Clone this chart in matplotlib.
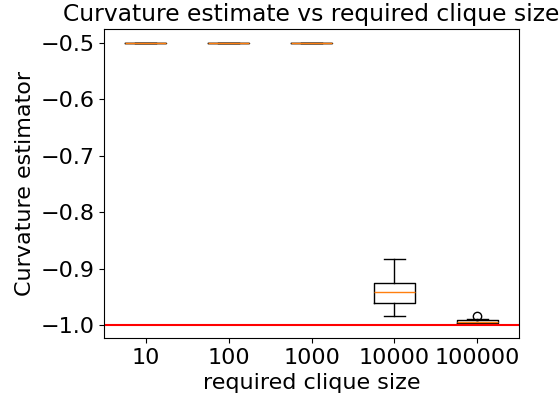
import matplotlib
matplotlib.use("Agg")
import matplotlib.pyplot as plt

# Valores (estadisticas de cada caja)
etiquetas = ["10", "100", "1000", "10000", "100000"]
medianas = [-0.5, -0.5, -0.5, -0.9405, -0.994]
q1 = [-0.5, -0.5, -0.5, -0.9607, -0.997]
q3 = [-0.5, -0.5, -0.5, -0.9256, -0.9916]
bigote_inf = [-0.5, -0.5, -0.5, -0.984, -0.998]
bigote_sup = [-0.5, -0.5, -0.5, -0.8834, -0.989]
atipicos = [[], [], [], [], [-0.984]]
valor_real = -1.0

stats = []
for i in range(len(etiquetas)):
    stats.append({
        "label": etiquetas[i],
        "med": medianas[i],
        "q1": q1[i],
        "q3": q3[i],
        "whislo": bigote_inf[i],
        "whishi": bigote_sup[i],
        "fliers": atipicos[i],
    })

plt.rcParams["font.size"] = 16

fig, ax = plt.subplots(figsize=(5.59, 4), dpi=100)
fig.subplots_adjust(left=0.1866, right=0.928, top=0.9275, bottom=0.155)

ax.bxp(stats)
ax.axhline(valor_real, color="red")

ax.set_title("Curvature estimate vs required clique size", fontsize=16.8)
ax.set_xlabel("required clique size")
ax.set_ylabel("Curvature estimator")

fig.savefig("out.png", dpi=100)
